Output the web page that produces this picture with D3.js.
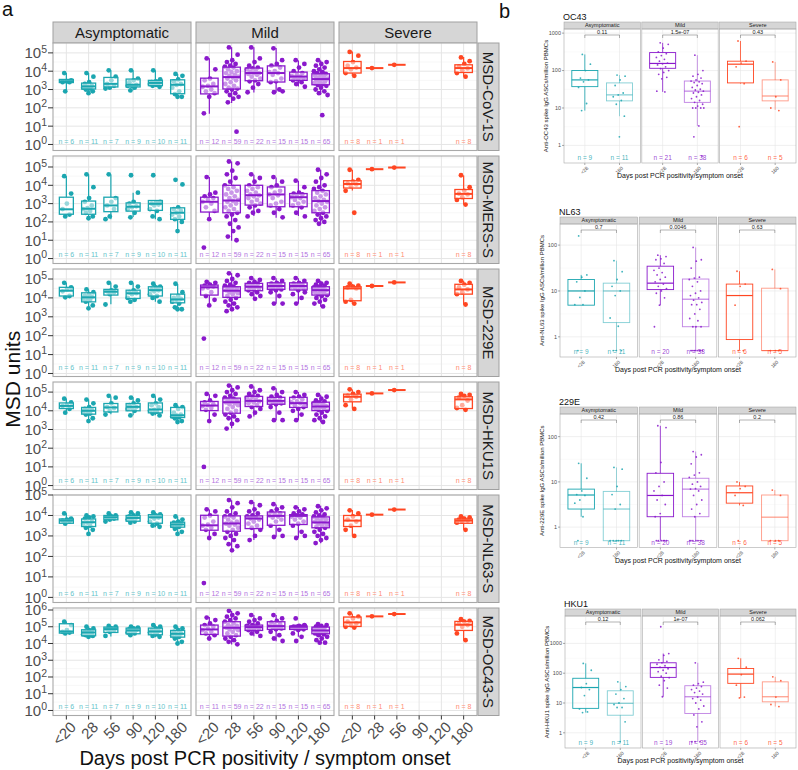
<!DOCTYPE html>
<html><head><meta charset="utf-8">
<script src="https://cdn.jsdelivr.net/npm/d3@7"></script>
<style>body{margin:0;background:#fff} svg{display:block} text{font-family:"Liberation Sans",Arial,Helvetica,sans-serif}</style>
</head><body><svg id="c" width="798" height="770"></svg>
<script>
// ---------- shared categories ----------
const severities = ["Asymptomatic","Mild","Severe"];
const days = ["<20","28","56","90","120","180"];
const assays = ["MSD-CoV-1S","MSD-MERS-S","MSD-229E","MSD-HKU1S","MSD-NL63-S","MSD-OC43-S"];
const nAsym = [6,11,7,9,10,11];
const nMild = [12,59,22,15,15,65];
const nMildOC43 = [11,59,22,15,15,65];
const nSevere = [8,1,1,null,null,8];
// y-axis extents (log10 MSD units) per row
const yDomA = [[-0.33,5.54],[-0.27,5.6],[-0.16,5.53],[-0.21,5.54],[-0.25,5.0],[-0.3,6.12]];

// ---------- panel a: box stats [lo,q1,median,q3,hi] in log10 MSD units ----------
const boxCoV1S = [
 [[2.9,3.38,3.45,3.55,3.9],[2.8,3.03,3.17,3.35,3.9],[3.03,3.14,3.31,3.66,4.04],[2.96,3.14,3.26,3.57,4.04],[3.14,3.21,3.36,3.5,4.04],[2.57,2.77,3.26,3.53,3.85]],
 [[1.68,2.76,3.17,3.62,4.71],[2.27,3.03,3.68,4.22,5.31],[2.84,3.48,3.9,4.17,5.31],[2.84,3.41,3.9,4.29,5.27],[3.17,3.5,3.71,3.95,4.58],[2.72,3.26,3.57,3.86,4.58]],
 [[3.75,3.9,4.17,4.53,5.07],[4.17,4.17,4.17,4.17,4.17],[4.35,4.35,4.35,4.35,4.35],null,null,[3.71,3.93,4.17,4.35,4.77]]];
const boxMERS = [
 [[2.32,2.42,2.69,3.35,4.49],[2.23,2.42,2.72,3.14,4.61],[2.14,2.56,2.9,3.35,4.58],[2.27,2.59,2.83,3.04,3.6],[2.14,2.63,2.99,3.17,3.2],[1.51,2.14,2.5,2.77,2.9]],
 [[2.14,2.54,3.1,3.35,4.45],[0.97,2.5,3.17,4.0,5.3],[2.32,2.92,3.46,4.0,4.58],[2.23,2.83,3.5,3.91,4.43],[2.32,2.83,3.35,3.55,4.25],[1.87,2.5,3.14,3.71,4.85]],
 [[3.71,3.85,4.07,4.25,4.85],[4.88,4.88,4.88,4.88,4.88],[4.97,4.97,4.97,4.97,4.97],null,null,[2.96,3.28,3.53,3.77,4.54]]];
const box229E = [
 [[4.03,4.1,4.38,4.56,4.8],[3.44,3.79,4.03,4.27,4.45],[3.67,4.15,4.33,4.45,4.8],[3.79,3.97,4.24,4.41,4.8],[3.79,4.1,4.41,4.59,4.73],[3.39,3.74,3.92,4.2,4.73]],
 [[3.62,4.15,4.56,4.68,4.86],[3.31,4.03,4.38,4.59,5.3],[3.97,4.38,4.59,4.77,5.04],[3.71,4.45,4.63,4.8,5.04],[3.71,4.42,4.63,4.8,5.04],[3.53,4.15,4.41,4.59,4.91]],
 [[3.71,3.85,4.5,4.59,4.73],[4.63,4.63,4.63,4.63,4.63],[4.82,4.82,4.82,4.82,4.82],null,null,[3.65,4.2,4.45,4.72,4.91]]];
const boxHKU1S = [
 [[3.89,4.12,4.26,4.42,4.66],[3.46,3.82,4.0,4.18,4.61],[3.82,3.94,4.18,4.39,4.78],[3.76,4.0,4.21,4.39,4.72],[3.76,3.89,4.07,4.42,4.78],[3.4,3.64,3.76,4.18,4.3]],
 [[3.46,4.01,4.28,4.5,4.89],[3.06,3.87,4.46,4.68,5.36],[3.69,4.23,4.53,4.77,5.3],[3.51,4.35,4.53,4.72,5.21],[3.51,4.18,4.41,4.72,5.0],[3.39,4.01,4.23,4.46,4.86]],
 [[4.12,4.48,4.75,4.89,5.14],[4.93,4.93,4.93,4.93,4.93],[5.11,5.11,5.11,5.11,5.11],null,null,[4.03,4.12,4.61,4.75,4.89]]];
const boxNL63 = [
 [[3.59,3.62,3.75,3.83,4.11],[3.11,3.46,3.67,3.83,4.0],[3.72,3.79,3.91,4.0,4.11],[3.67,3.72,3.88,4.0,4.16],[3.43,3.62,3.91,4.04,4.16],[3.11,3.43,3.56,3.67,3.95]],
 [[2.88,3.28,3.52,4.01,4.29],[2.31,3.23,3.61,3.98,4.74],[2.8,3.36,3.85,3.98,4.66],[2.96,3.52,3.98,4.17,4.53],[2.91,3.56,3.98,4.04,4.42],[2.64,3.4,3.66,3.93,4.47]],
 [[3.02,3.46,3.75,4.0,4.27],[4.04,4.04,4.04,4.04,4.04],[4.29,4.29,4.29,4.29,4.29],null,null,[3.3,3.62,3.75,3.83,3.95]]];
const boxOC43 = [
 [[4.62,4.62,4.72,5.18,5.32],[4.42,4.46,4.66,4.82,5.02],[4.42,4.66,4.86,4.98,5.06],[4.52,4.58,4.78,4.92,5.02],[4.38,4.52,4.72,4.92,5.12],[4.02,4.38,4.58,4.78,5.02]],
 [[4.3,4.54,4.84,5.1,5.58],[3.94,4.44,4.94,5.3,5.94],[4.44,4.78,4.98,5.1,5.7],[4.14,4.84,5.04,5.3,5.7],[4.4,4.84,5.0,5.04,5.1],[4.04,4.58,4.78,4.98,5.14]],
 [[4.92,5.02,5.26,5.58,5.78],[5.62,5.62,5.62,5.62,5.62],[5.76,5.76,5.76,5.76,5.76],null,null,[4.18,4.78,5.12,5.32,5.46]]];

// ---------- panel a: individual values (log10 MSD units) ----------
const ptsCoV1S = [
 [[3.9,3.5,3.45,3.4,3.4,2.9],[3.9,3.7,3.4,3.3,3.2,3.15,3.1,3.05,3.0,2.9,2.8],[4.05,3.7,3.5,3.3,3.2,3.1,3.05],[4.05,3.6,3.5,3.4,3.25,3.2,3.2,3.1,2.95],[4.05,3.55,3.45,3.4,3.35,3.3,3.3,3.25,3.2,3.15],[3.85,3.75,3.55,3.45,3.3,3.25,3.1,2.9,2.75,2.6,2.6]],
 [[4.7,4.1,3.6,3.5,3.3,3.2,3.15,3.0,2.9,2.8,2.6,1.7],
  [5.3,4.9,4.6,4.5,4.4,4.3,4.25,4.2,4.1,4.0,3.95,3.9,3.8,3.75,3.7,3.65,3.6,3.5,3.4,3.3,3.2,3.1,3.05,3.0,2.9,2.8,2.7,2.6,2.5,2.3,0.7],
  [5.3,4.7,4.5,4.3,4.2,4.15,4.1,4.0,3.95,3.9,3.9,3.85,3.8,3.7,3.6,3.5,3.45,3.3,3.1,2.85],
  [5.25,4.6,4.4,4.3,4.2,4.0,3.95,3.9,3.8,3.6,3.45,3.4,3.0,2.85,2.9],
  [4.6,4.4,4.2,4.0,3.9,3.8,3.75,3.7,3.65,3.6,3.55,3.5,3.4,3.3,3.15],
  [4.6,4.5,4.4,4.3,4.2,4.1,4.0,3.95,3.9,3.85,3.8,3.75,3.7,3.65,3.6,3.55,3.5,3.45,3.4,3.35,3.3,3.25,3.2,3.1,3.0,2.9,2.8,2.7,1.6]],
 [[5.05,4.85,4.5,4.3,4.2,4.1,3.9,3.75],[4.17],[4.35],[],[],[4.75,4.55,4.4,4.25,4.15,4.05,3.9,3.7]]];
const ptsMERS = [
 [[4.5,3.55,3.0,2.7,2.4,2.3],[4.6,3.9,3.3,3.1,2.9,2.75,2.7,2.6,2.5,2.3,2.2],[4.6,3.3,3.1,2.9,2.7,2.3,2.15],[4.55,3.6,3.1,3.0,2.85,2.8,2.7,2.5,2.25],[4.55,3.1,3.05,3.0,2.95,2.9,2.7,2.6,2.3,2.15],[4.3,4.05,2.8,2.7,2.6,2.5,2.4,2.3,2.15,2.0,1.5]],
 [[4.45,3.6,3.5,3.4,3.3,3.2,3.1,3.0,2.8,2.6,2.15,0.6],
  [5.3,5.2,4.8,4.6,4.4,4.2,4.0,3.9,3.8,3.7,3.6,3.5,3.4,3.3,3.2,3.15,3.1,3.0,2.9,2.8,2.7,2.6,2.5,2.4,2.3,2.1,1.9,1.7,1.5,1.2,1.0],
  [4.6,4.4,4.2,4.0,3.9,3.8,3.7,3.6,3.5,3.45,3.4,3.3,3.2,3.1,3.0,2.9,2.8,2.6,2.5,2.3],
  [4.45,4.2,4.0,3.9,3.7,3.6,3.5,3.45,3.3,3.1,3.0,2.9,2.7,2.5,2.25],
  [4.25,3.9,3.6,3.55,3.5,3.4,3.35,3.3,3.2,3.1,3.0,2.9,2.8,2.5,2.3],
  [4.85,4.6,4.4,4.2,4.0,3.9,3.8,3.7,3.6,3.5,3.4,3.3,3.2,3.15,3.1,3.0,2.9,2.8,2.7,2.6,2.5,2.4,2.3,2.2,2.1,2.0,1.9]],
 [[4.85,4.3,4.2,4.1,4.05,3.95,3.7,2.5],[4.88],[4.97],[],[],[4.55,3.9,3.7,3.55,3.5,3.35,3.2,2.95]]];
const pts229E = [
 [[4.8,4.55,4.45,4.35,4.1,4.03],[4.45,4.3,4.2,4.1,4.05,4.0,3.95,3.9,3.8,3.6,3.45],[4.8,4.6,4.4,4.35,4.3,4.2,3.65],[4.8,4.6,4.4,4.3,4.25,4.2,4.0,3.9,3.8],[4.75,4.6,4.55,4.45,4.4,4.35,4.2,4.1,4.0,3.8],[4.75,4.3,4.1,4.0,3.95,3.9,3.8,3.7,3.5,3.4,3.4]],
 [[4.85,4.8,4.7,4.65,4.6,4.55,4.5,4.3,4.1,3.9,3.6,1.85],
  [5.3,5.2,5.0,4.9,4.8,4.7,4.65,4.6,4.55,4.5,4.45,4.4,4.35,4.3,4.25,4.2,4.1,4.0,3.9,3.8,3.7,3.6,3.5,3.4,3.3],
  [5.05,4.95,4.85,4.8,4.75,4.7,4.65,4.6,4.55,4.5,4.45,4.4,4.3,4.2,4.1,3.95],
  [5.05,4.9,4.8,4.75,4.7,4.65,4.6,4.55,4.5,4.45,4.4,4.3,4.1,3.7,3.7],
  [5.05,4.9,4.8,4.75,4.7,4.65,4.6,4.6,4.55,4.5,4.4,4.2,4.0,3.7,4.3],
  [4.9,4.8,4.75,4.7,4.65,4.6,4.55,4.5,4.45,4.4,4.35,4.3,4.25,4.2,4.15,4.1,4.0,3.9,3.8,3.7,3.55]],
 [[4.75,4.65,4.6,4.55,4.5,3.9,3.8,3.7],[4.63],[4.82],[],[],[4.9,4.8,4.7,4.55,4.45,4.3,4.2,3.65]]];
const ptsHKU1S = [
 [[4.65,4.45,4.3,4.25,4.1,3.9],[4.6,4.4,4.2,4.1,4.05,4.0,3.95,3.85,3.8,3.6,3.45],[4.8,4.7,4.4,4.2,4.15,4.0,3.8],[4.7,4.55,4.4,4.3,4.2,4.15,4.1,4.0,3.75],[4.8,4.6,4.4,4.3,4.2,4.05,4.0,3.95,3.85,3.75],[4.3,4.2,4.1,3.9,3.8,3.75,3.7,3.65,3.6,3.45,3.4]],
 [[4.9,4.8,4.55,4.45,4.35,4.3,4.25,4.15,4.05,3.8,3.45,1.0],
  [5.35,5.25,5.1,5.0,4.9,4.8,4.7,4.65,4.6,4.55,4.5,4.45,4.4,4.35,4.3,4.2,4.1,4.0,3.9,3.8,3.7,3.6,3.5,3.3,3.05],
  [5.3,5.1,5.0,4.9,4.8,4.75,4.7,4.6,4.55,4.5,4.45,4.4,4.3,4.2,4.1,3.9,3.7],
  [5.2,5.0,4.85,4.75,4.7,4.6,4.55,4.5,4.45,4.4,4.35,4.2,3.9,3.5,3.5],
  [5.0,4.85,4.75,4.7,4.6,4.5,4.45,4.4,4.3,4.2,4.1,4.0,3.8,3.5,4.35],
  [4.85,4.75,4.65,4.55,4.5,4.45,4.4,4.35,4.3,4.25,4.2,4.15,4.1,4.05,4.0,3.9,3.8,3.7,3.6,3.5,3.4]],
 [[5.15,5.0,4.9,4.8,4.75,4.6,4.3,4.1],[4.93],[5.11],[],[],[4.9,4.85,4.8,4.7,4.55,4.3,4.15,4.05]]];
const ptsNL63 = [
 [[4.1,3.85,3.8,3.75,3.7,3.6],[4.0,3.95,3.9,3.85,3.7,3.65,3.6,3.5,3.4,3.3,3.1],[4.1,4.0,3.95,3.9,3.85,3.8,3.7],[4.15,4.1,4.0,3.95,3.9,3.85,3.8,3.7,3.65],[4.15,4.05,4.0,3.95,3.9,3.85,3.7,3.6,3.5,3.45],[3.95,3.8,3.7,3.65,3.6,3.55,3.5,3.45,3.35,3.2,3.1]],
 [[4.3,4.2,4.0,3.9,3.7,3.55,3.5,3.4,3.3,3.1,2.9,0.7],
  [4.75,4.6,4.4,4.2,4.1,4.0,3.95,3.9,3.8,3.7,3.65,3.6,3.55,3.5,3.4,3.3,3.2,3.1,3.0,2.9,2.8,2.6,2.5,2.3],
  [4.65,4.5,4.3,4.2,4.1,4.0,3.95,3.9,3.85,3.8,3.7,3.6,3.5,3.4,3.3,3.0,2.8],
  [4.55,4.4,4.3,4.2,4.1,4.05,4.0,3.95,3.9,3.8,3.7,3.5,3.3,2.95,3.0],
  [4.4,4.3,4.2,4.1,4.05,4.0,3.95,3.9,3.8,3.7,3.6,3.5,3.2,2.9,3.0],
  [4.45,4.35,4.25,4.15,4.05,4.0,3.95,3.9,3.85,3.8,3.75,3.7,3.65,3.6,3.55,3.5,3.45,3.4,3.3,3.2,3.1,3.0,2.9,2.8,2.65]],
 [[4.25,4.1,3.95,3.8,3.7,3.5,3.3,3.0],[4.04],[4.29],[],[],[3.95,3.9,3.85,3.8,3.75,3.7,3.65,3.3]]];
const ptsOC43 = [
 [[5.3,5.1,4.8,4.7,4.65,4.6],[5.0,4.9,4.8,4.7,4.65,4.6,4.55,4.5,4.5,4.45,4.4],[5.05,5.0,4.9,4.85,4.8,4.7,4.45],[5.0,4.95,4.9,4.85,4.8,4.75,4.65,4.6,4.5],[5.1,5.0,4.9,4.8,4.75,4.7,4.65,4.55,4.45,4.4],[5.0,4.9,4.8,4.7,4.6,4.55,4.5,4.4,4.3,4.1,4.0]],
 [[5.55,5.4,5.2,5.1,5.0,4.9,4.8,4.7,4.6,4.5,4.3],
  [5.95,5.8,5.7,5.6,5.5,5.4,5.3,5.2,5.1,5.05,5.0,4.95,4.9,4.85,4.8,4.7,4.6,4.5,4.4,4.3,4.2,4.1,3.95],
  [5.7,5.5,5.4,5.3,5.2,5.1,5.05,5.0,4.95,4.9,4.85,4.8,4.7,4.6,4.45],
  [5.7,5.5,5.35,5.25,5.15,5.1,5.05,5.0,4.95,4.9,4.85,4.7,4.5,4.3,4.15],
  [5.5,5.1,5.05,5.0,5.0,5.0,4.95,4.9,4.9,4.85,4.8,4.6,4.4,4.15,5.05],
  [5.15,5.1,5.05,5.0,4.95,4.9,4.85,4.8,4.75,4.7,4.65,4.6,4.55,4.5,4.4,4.3,4.2,4.05,4.05]],
 [[5.8,5.6,5.5,5.3,5.2,5.1,5.0,4.95],[5.62],[5.76],[],[],[5.45,5.35,5.3,5.2,5.1,5.0,4.6,4.2]]];

const boxesA = [boxCoV1S, boxMERS, box229E, boxHKU1S, boxNL63, boxOC43];
const ptsA = [ptsCoV1S, ptsMERS, pts229E, ptsHKU1S, ptsNL63, ptsOC43];

// ---------- panel b (log10 ASCs / million PBMCs; 0 plotted at 0.5) ----------
const daysB = ["<28","180"];
const bNames = ["OC43","NL63","229E","HKU1"];
const bTicks = [[1,10,100,1000],[1,10,100],[1,10,100],[1,10,100,1000]];
const bDom = [[-0.47,3.11],[-0.44,2.46],[-0.45,2.5],[-0.51,3.92]];
const bN = [[[9,11],[21,38],[6,5]],[[9,11],[20,38],[6,5]],[[9,11],[20,38],[6,5]],[[9,11],[19,35],[6,5]]];
const bP = [["0.11","1.5e-07","0.43"],["0.7","0.0046","0.63"],["0.42","0.86","0.2"],["0.12","1e-07","0.062"]];
const bBoxOC43 = [[[0.93,1.57,1.75,2.0,2.43],[0.78,1.19,1.35,1.67,1.88]],[[1.43,2.06,2.19,2.48,2.74],[0.52,1.15,1.45,1.72,2.41]],[[1.65,1.67,2.17,2.25,2.79],[0.95,1.19,1.32,1.75,2.23]]];
const bBoxNL63 = [[[0.69,0.69,1.0,1.25,1.35],[-0.3,0.31,1.0,1.17,1.66]],[[0.69,1.03,1.17,1.54,1.78],[-0.3,0.22,0.82,1.26,1.95]],[[-0.3,-0.06,0.9,1.15,1.43],[-0.3,-0.3,-0.3,1.06,1.47]]];
const bBox229E = [[[0.23,0.4,0.71,0.84,1.41],[-0.3,-0.3,0.4,0.79,1.32]],[[-0.3,0.23,0.7,1.19,2.24],[-0.3,0.23,0.84,1.08,1.67]],[[0.48,0.53,0.76,0.91,1.0],[-0.3,-0.3,0.22,0.71,0.82]]];
const bBoxHKU1 = [[[0.68,0.82,1.52,1.83,2.33],[-0.3,0.59,0.99,1.41,1.71]],[[1.21,1.86,2.19,2.35,2.66],[-0.3,0.65,1.21,1.58,2.35]],[[1.17,1.66,1.97,2.16,2.5],[0.88,1.04,1.21,1.71,1.88]]];
const bPtsOC43 = [
 [[2.43,2.17,2.0,1.8,1.75,1.7,1.55,1.12,0.93],[1.88,1.85,1.75,1.6,1.4,1.35,1.3,1.2,1.1,0.78,0.23]],
 [[2.74,2.7,2.6,2.5,2.45,2.4,2.35,2.3,2.25,2.2,2.18,2.15,2.1,2.05,2.0,1.95,1.9,1.82,1.78,1.45,1.43],
  [2.41,2.0,1.9,1.85,1.8,1.75,1.72,1.7,1.68,1.65,1.6,1.55,1.5,1.48,1.45,1.42,1.4,1.35,1.3,1.25,1.2,1.15,1.1,1.05,1.0,1.0,1.0,1.0,0.52,0.23,-0.28]],
 [[2.79,2.25,2.2,2.1,1.65,0.5],[2.23,1.75,1.3,1.0,0.93]]];
const bPtsNL63 = [
 [[2.2,1.35,1.3,1.2,1.0,0.86,0.7,0.7,-0.3],[1.66,1.42,1.25,1.1,1.0,0.9,0.41,0.23,-0.3,-0.3,-0.3]],
 [[1.78,1.75,1.7,1.68,1.6,1.5,1.45,1.4,1.35,1.3,1.25,1.2,1.15,1.1,1.05,1.0,0.95,0.85,0.69,0.22],
  [1.95,1.68,1.65,1.5,1.3,1.28,1.25,1.2,1.1,1.0,0.95,0.9,0.85,0.8,0.75,0.7,0.7,0.6,0.5,0.4,0.35,0.22,0.22,0.22,-0.3,-0.3,-0.3,-0.3,-0.3,-0.3,-0.3,-0.3]],
 [[1.43,1.15,1.1,0.69,-0.3,-0.3],[1.47,1.05,-0.3,-0.3,-0.3]]];
const bPts229E = [
 [[1.41,1.08,0.8,0.72,0.7,0.6,0.53,0.23,-0.3],[1.32,1.28,0.9,0.72,0.5,0.4,-0.3,-0.3,-0.3,-0.3,-0.3]],
 [[2.24,2.2,1.43,1.2,1.0,0.9,0.8,0.7,0.6,0.5,0.3,0.23,-0.3,-0.3,-0.3,-0.3,-0.3,-0.3],
  [1.67,1.6,1.55,1.4,1.2,1.15,1.1,1.0,0.95,0.9,0.85,0.84,0.8,0.7,0.6,0.5,0.4,0.3,0.23,-0.3,-0.3,-0.3,-0.3,-0.3,-0.3]],
 [[1.0,0.9,0.85,0.7,0.48,-0.3],[0.82,0.7,-0.3,-0.3,-0.3]]];
const bPtsHKU1 = [
 [[2.33,2.1,1.65,1.52,1.45,1.25,0.8,0.7,0.68],[1.71,1.55,1.45,1.3,1.15,1.0,0.95,0.85,0.85,0.37,-0.3]],
 [[3.56,2.66,2.6,2.45,2.4,2.35,2.3,2.25,2.2,2.15,2.1,2.05,2.0,1.9,1.85,1.75,1.6,1.5,1.21],
  [2.35,1.7,1.65,1.6,1.55,1.5,1.45,1.4,1.35,1.3,1.2,1.15,1.1,1.0,0.9,0.8,0.6,0.37,0.2,-0.3,-0.3,-0.3]],
 [[2.5,2.2,1.95,1.6,1.2,1.17],[1.88,1.75,1.2,0.95,0.88]]];
const bBoxes = [bBoxOC43,bBoxNL63,bBox229E,bBoxHKU1];
const bPts = [bPtsOC43,bPtsNL63,bPts229E,bPtsHKU1];

// ---------- styling ----------
const col = ["#1ba6b0","#8a19cc","#ff4622"];
const colN = ["#63c3ca","#b274e0","#ff8c72"];
const gridMaj = "#e5e5e5", gridMin = "#f2f2f2", border = "#a9a9a9", stripFill = "#d6d6d6", stripStroke = "#a0a0a0";
const tickCol = "#4d4d4d";
const svg = d3.select("#c");
const jit = i => ((i * 0.6180339887 + 0.31) % 1) - 0.5;

// ================= PANEL A =================
const A = {left:53, colW:138, colGap:5, top:43, rowH:107.5, rowStep:113, stripTop:22, stripH:21};
const xA = d3.scalePoint().domain(days).range([0, A.colW]).padding(0.6);
const boxWA = [14, 17.5, 17.5];

svg.append("text").attr("x",2).attr("y",16).attr("font-size",20).attr("fill","#111").text("a");

severities.forEach((s, c) => {
  const x0 = A.left + c * (A.colW + A.colGap);
  svg.append("rect").attr("x",x0).attr("y",A.stripTop).attr("width",A.colW).attr("height",A.stripH)
    .attr("fill",stripFill).attr("stroke",stripStroke).attr("stroke-width",1);
  svg.append("text").attr("x",x0 + A.colW/2).attr("y",A.stripTop + A.stripH/2).attr("dy","0.36em")
    .attr("text-anchor","middle").attr("font-size",15).attr("fill","#1a1a1a").text(s);
});

assays.forEach((assay, r) => {
  const y0 = A.top + r * A.rowStep;
  const y = d3.scaleLinear().domain(yDomA[r]).range([y0 + A.rowH, y0]);
  const majors = d3.range(Math.ceil(yDomA[r][0]), Math.floor(yDomA[r][1] + 1e-9) + 1);
  const minors = d3.range(Math.ceil(yDomA[r][0] - 0.5) + 0.5, yDomA[r][1], 1);
  severities.forEach((s, c) => {
    const x0 = A.left + c * (A.colW + A.colGap);
    const g = svg.append("g").attr("transform", `translate(${x0},0)`);
    g.append("rect").attr("x",0).attr("y",y0).attr("width",A.colW).attr("height",A.rowH).attr("fill","#fff");
    g.selectAll(".mn").data(minors).join("line").attr("x1",0).attr("x2",A.colW)
      .attr("y1",d=>y(d)).attr("y2",d=>y(d)).attr("stroke",gridMin).attr("stroke-width",0.6);
    g.selectAll(".mj").data(majors).join("line").attr("x1",0).attr("x2",A.colW)
      .attr("y1",d=>y(d)).attr("y2",d=>y(d)).attr("stroke",gridMaj).attr("stroke-width",1);
    g.selectAll(".vx").data(days).join("line").attr("x1",d=>xA(d)).attr("x2",d=>xA(d))
      .attr("y1",y0).attr("y2",y0 + A.rowH).attr("stroke",gridMaj).attr("stroke-width",1);
    const bw = boxWA[c];
    const nArr = c === 0 ? nAsym : c === 1 ? (r === 5 ? nMildOC43 : nMild) : nSevere;
    days.forEach((d, k) => {
      const cx = xA(d);
      const pts = ptsA[r][c][k];
      g.selectAll(null).data(pts).join("circle")
        .attr("cx",(v,i)=>cx + jit(i) * bw * 0.8).attr("cy",v=>y(v)).attr("r",2.4).attr("fill",col[c]);
      const b = boxesA[r][c][k];
      if (b) {
        g.append("line").attr("x1",cx).attr("x2",cx).attr("y1",y(b[3])).attr("y2",y(b[4])).attr("stroke",col[c]).attr("stroke-width",1.2);
        g.append("line").attr("x1",cx).attr("x2",cx).attr("y1",y(b[1])).attr("y2",y(b[0])).attr("stroke",col[c]).attr("stroke-width",1.2);
        g.append("rect").attr("x",cx - bw/2).attr("y",y(b[3])).attr("width",bw).attr("height",Math.max(0,y(b[1]) - y(b[3])))
          .attr("fill","#fff").attr("fill-opacity",0.55).attr("stroke",col[c]).attr("stroke-width",1.3);
        g.append("line").attr("x1",cx - bw/2).attr("x2",cx + bw/2).attr("y1",y(b[2])).attr("y2",y(b[2]))
          .attr("stroke",col[c]).attr("stroke-width",2);
      }
      if (nArr[k] != null) {
        g.append("text").attr("x",cx).attr("y",y0 + A.rowH - 9).attr("dy","0.35em").attr("text-anchor","middle")
          .attr("font-size",7).attr("fill",colN[c]).text(`n = ${nArr[k]}`);
      }
    });
    g.append("rect").attr("x",0).attr("y",y0).attr("width",A.colW).attr("height",A.rowH)
      .attr("fill","none").attr("stroke",border).attr("stroke-width",1.1);
    if (c === 0) {
      majors.forEach(k => {
        svg.append("line").attr("x1",A.left - 5).attr("x2",A.left).attr("y1",y(k)).attr("y2",y(k)).attr("stroke","#333").attr("stroke-width",1);
        const t = svg.append("text").attr("x",A.left - 6).attr("y",y(k)).attr("dy","0.36em").attr("text-anchor","end")
          .attr("font-size",15).attr("fill",tickCol);
        t.append("tspan").text("10");
        t.append("tspan").attr("dy","-0.55em").attr("font-size",10.5).text(k);
      });
    }
  });
  // right strip
  const sx = A.left + 3 * A.colW + 2 * A.colGap + 1;
  svg.append("rect").attr("x",sx).attr("y",y0).attr("width",21).attr("height",A.rowH)
    .attr("fill",stripFill).attr("stroke",stripStroke).attr("stroke-width",1);
  svg.append("text").attr("transform",`translate(${sx + 10.5},${y0 + A.rowH/2}) rotate(90)`).attr("dy","0.36em")
    .attr("text-anchor","middle").attr("font-size",15).attr("fill","#1a1a1a").text(assay);
});

// x axis of panel a
const yBot = A.top + 5 * A.rowStep + A.rowH;
severities.forEach((s, c) => {
  const x0 = A.left + c * (A.colW + A.colGap);
  days.forEach(d => {
    const cx = x0 + xA(d);
    svg.append("line").attr("x1",cx).attr("x2",cx).attr("y1",yBot).attr("y2",yBot + 4).attr("stroke","#333");
    svg.append("text").attr("transform",`translate(${cx + 3},${yBot + 5}) rotate(-45)`).attr("dy","0.72em")
      .attr("text-anchor","end").attr("font-size",15).attr("fill",tickCol).text(d);
  });
});
svg.append("text").attr("x",A.left + (3*A.colW + 2*A.colGap)/2).attr("y",765).attr("text-anchor","middle")
  .attr("font-size",20).attr("fill","#111").text("Days post PCR positivity / symptom onset");
svg.append("text").attr("transform",`translate(20,${(A.top + yBot)/2}) rotate(-90)`).attr("text-anchor","middle")
  .attr("font-size",21).attr("fill","#111").text("MSD units");

// ================= PANEL B =================
svg.append("text").attr("x",499).attr("y",18).attr("font-size",20).attr("fill","#111").text("b");
const bLay = [
  {top:29, bottom:163, left:564},
  {top:224, bottom:357, left:560},
  {top:414, bottom:547.5, left:560},
  {top:616, bottom:748, left:565}];
const bRight = 796, bGap = 1.5, bStripH = 7;

bNames.forEach((nm, p) => {
  const L = bLay[p];
  const pw = (bRight - L.left - 2 * bGap) / 3;
  const y = d3.scaleLinear().domain(bDom[p]).range([L.bottom, L.top]);
  const xB = d3.scalePoint().domain(daysB).range([0, pw]).padding(0.6);
  const bw = xB.step() * 0.75;
  const majors = bTicks[p].map(v => Math.log10(v));
  const minors = majors.map(v => v + 0.5).concat([majors[0] - 0.5]).filter(v => v > bDom[p][0] && v < bDom[p][1]);
  svg.append("text").attr("x",L.left - 1).attr("y",L.top - bStripH - 2.5).attr("font-size",9).attr("fill","#111").text(nm);
  severities.forEach((s, c) => {
    const x0 = L.left + c * (pw + bGap);
    const g = svg.append("g").attr("transform",`translate(${x0},0)`);
    g.append("rect").attr("x",0).attr("y",L.top - bStripH).attr("width",pw).attr("height",bStripH)
      .attr("fill",stripFill).attr("stroke",stripStroke).attr("stroke-width",0.5);
    g.append("text").attr("x",pw/2).attr("y",L.top - bStripH/2).attr("dy","0.36em").attr("text-anchor","middle")
      .attr("font-size",5.5).attr("fill","#1a1a1a").text(s);
    g.selectAll(".mn").data(minors).join("line").attr("x1",0).attr("x2",pw).attr("y1",d=>y(d)).attr("y2",d=>y(d))
      .attr("stroke",gridMin).attr("stroke-width",0.4);
    g.selectAll(".mj").data(majors).join("line").attr("x1",0).attr("x2",pw).attr("y1",d=>y(d)).attr("y2",d=>y(d))
      .attr("stroke",gridMaj).attr("stroke-width",0.6);
    g.selectAll(".vx").data(daysB).join("line").attr("x1",d=>xB(d)).attr("x2",d=>xB(d)).attr("y1",L.top).attr("y2",L.bottom)
      .attr("stroke",gridMaj).attr("stroke-width",0.6);
    daysB.forEach((d, k) => {
      const cx = xB(d);
      const b = bBoxes[p][c][k];
      const op = k === 0 ? 1 : 0.55;
      g.append("line").attr("x1",cx).attr("x2",cx).attr("y1",y(b[3])).attr("y2",y(b[4])).attr("stroke",col[c]).attr("stroke-opacity",op).attr("stroke-width",0.8);
      g.append("line").attr("x1",cx).attr("x2",cx).attr("y1",y(b[1])).attr("y2",y(b[0])).attr("stroke",col[c]).attr("stroke-opacity",op).attr("stroke-width",0.8);
      g.append("rect").attr("x",cx - bw/2).attr("y",y(b[3])).attr("width",bw).attr("height",Math.max(0,y(b[1]) - y(b[3])))
        .attr("fill","none").attr("stroke",col[c]).attr("stroke-opacity",op).attr("stroke-width",0.9);
      g.append("line").attr("x1",cx - bw/2).attr("x2",cx + bw/2).attr("y1",y(b[2])).attr("y2",y(b[2]))
        .attr("stroke",col[c]).attr("stroke-opacity",op).attr("stroke-width",1.2);
      g.selectAll(null).data(bPts[p][c][k]).join("circle")
        .attr("cx",(v,i)=>cx + jit(i) * bw * 0.5).attr("cy",v=>y(v)).attr("r",0.9).attr("fill",col[c]).attr("fill-opacity",0.85);
      g.append("text").attr("x",cx).attr("y",L.bottom - 3).attr("text-anchor","middle").attr("font-size",6.5)
        .attr("fill",col[c]).attr("fill-opacity",0.85).text(`n = ${bN[p][c][k]}`);
      g.append("line").attr("x1",cx).attr("x2",cx).attr("y1",L.bottom).attr("y2",L.bottom + 2).attr("stroke","#555").attr("stroke-width",0.5);
      g.append("text").attr("transform",`translate(${cx + 1.5},${L.bottom + 3}) rotate(-45)`).attr("dy","0.7em")
        .attr("text-anchor","end").attr("font-size",5).attr("fill",tickCol).text(d);
    });
    const by = L.top + 6, xa = xB(daysB[0]), xb = xB(daysB[1]);
    g.append("path").attr("d",`M${xa},${by + 3}V${by}H${xb}V${by + 3}`).attr("fill","none").attr("stroke","#666").attr("stroke-width",0.5);
    g.append("text").attr("x",(xa + xb)/2).attr("y",by - 1.2).attr("text-anchor","middle").attr("font-size",5.5).attr("fill","#222").text(bP[p][c]);
    g.append("rect").attr("x",0).attr("y",L.top).attr("width",pw).attr("height",L.bottom - L.top)
      .attr("fill","none").attr("stroke",border).attr("stroke-width",0.6);
    if (c === 0) {
      bTicks[p].forEach(v => {
        const yy = y(Math.log10(v));
        svg.append("line").attr("x1",L.left - 2).attr("x2",L.left).attr("y1",yy).attr("y2",yy).attr("stroke","#555").attr("stroke-width",0.5);
        svg.append("text").attr("x",L.left - 3).attr("y",yy).attr("dy","0.35em").attr("text-anchor","end").attr("font-size",5.5).attr("fill",tickCol).text(v);
      });
    }
  });
  svg.append("text").attr("transform",`translate(${L.left - 16},${(L.top + L.bottom)/2}) rotate(-90)`).attr("text-anchor","middle")
    .attr("font-size",6).attr("fill","#111").text(`Anti-${nm} spike IgG ASCs/million PBMCs`);
  svg.append("text").attr("x",(L.left + bRight)/2).attr("y",L.bottom + 15).attr("text-anchor","middle")
    .attr("font-size",7).attr("fill","#111").text("Days post PCR positivity/symptom onset");
});
</script></body></html>
